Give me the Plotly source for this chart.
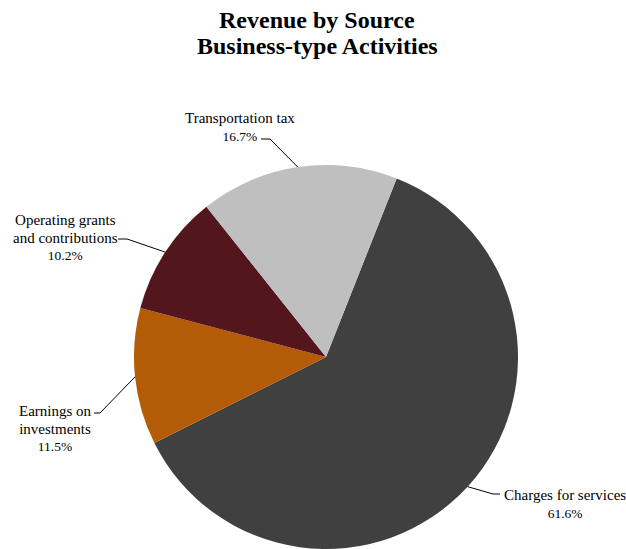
import math
import plotly.graph_objects as go

# ---- data ----
categories = ["Charges for services", "Earnings on investments",
              "Operating grants and contributions", "Transportation tax"]
values = [61.6, 11.5, 10.2, 16.7]
name_lines = [["Charges for services"], ["Earnings on", "investments"],
              ["Operating grants", "and contributions"], ["Transportation tax"]]
pct_texts = ["61.6%", "11.5%", "10.2%", "16.7%"]
title_lines = ["Revenue by Source", "Business-type Activities"]
colors = ["#404040", "#B45B07", "#53161C", "#BFBFBF"]

# ---- layout geometry (pixels) ----
W, H = 626, 549
R = 192
CX = 326
CY = H - R          # pie touches the bottom
ROT = 21.6          # first slice start angle, clockwise from 12 o'clock

# label centre positions and leader-line elbow points (pixels)
label_pos = [(565, 504), (55, 428), (65, 237), (240, 127)]
elbows = [[(493, 494), (500, 494)],
          [(100, 413), (94, 413)],
          [(127, 239), (118, 239)],
          [(270, 139), (261, 139)]]
title_y = [20, 46]

def px(x): return x / W
def py(y): return 1 - y / H

fig = go.Figure(go.Pie(
    labels=categories, values=values, sort=False, direction="clockwise",
    rotation=ROT, marker=dict(colors=colors, line=dict(width=0)),
    textinfo="none", hoverinfo="skip", showlegend=False,
    domain=dict(x=[px(CX - R), px(CX + R)], y=[0, (2 * R) / H]),
))

total = sum(values)
cum = 0.0
shapes, annotations = [], []
for i, v in enumerate(values):
    mid = math.radians(ROT + (cum + v / 2) / total * 360)
    cum += v
    tx = CX + R * math.sin(mid)
    ty = CY - R * math.cos(mid)
    pts = [(tx, ty)] + elbows[i]
    path = "M " + " L ".join(f"{px(a)},{py(b)}" for a, b in pts)
    shapes.append(dict(type="path", path=path, xref="paper", yref="paper",
                       line=dict(color="black", width=1)))
    lx, ly = label_pos[i]
    txt = "<br>".join(f"<span style='font-size:15px'>{s}</span>" for s in name_lines[i])
    txt += "<br>" + pct_texts[i]
    annotations.append(dict(text=txt, x=px(lx), y=py(ly), xref="paper", yref="paper",
                            xanchor="center", yanchor="middle", showarrow=False, align="center",
                            font=dict(family="Liberation Serif", size=13.5, color="#000000")))

for t, y in zip(title_lines, title_y):
    annotations.append(dict(text=f"<b>{t}</b>", x=px(317), y=py(y), xref="paper", yref="paper",
                            xanchor="center", yanchor="middle", showarrow=False, align="center",
                            font=dict(family="Liberation Serif", size=24, color="#000000")))

fig.update_layout(width=W, height=H, margin=dict(l=0, r=0, t=0, b=0),
                  paper_bgcolor="white", plot_bgcolor="white",
                  shapes=shapes, annotations=annotations)

fig.write_html("out.html", config={"displayModeBar": False},
               post_script="document.body.style.margin='0';document.body.style.overflow='hidden';")
